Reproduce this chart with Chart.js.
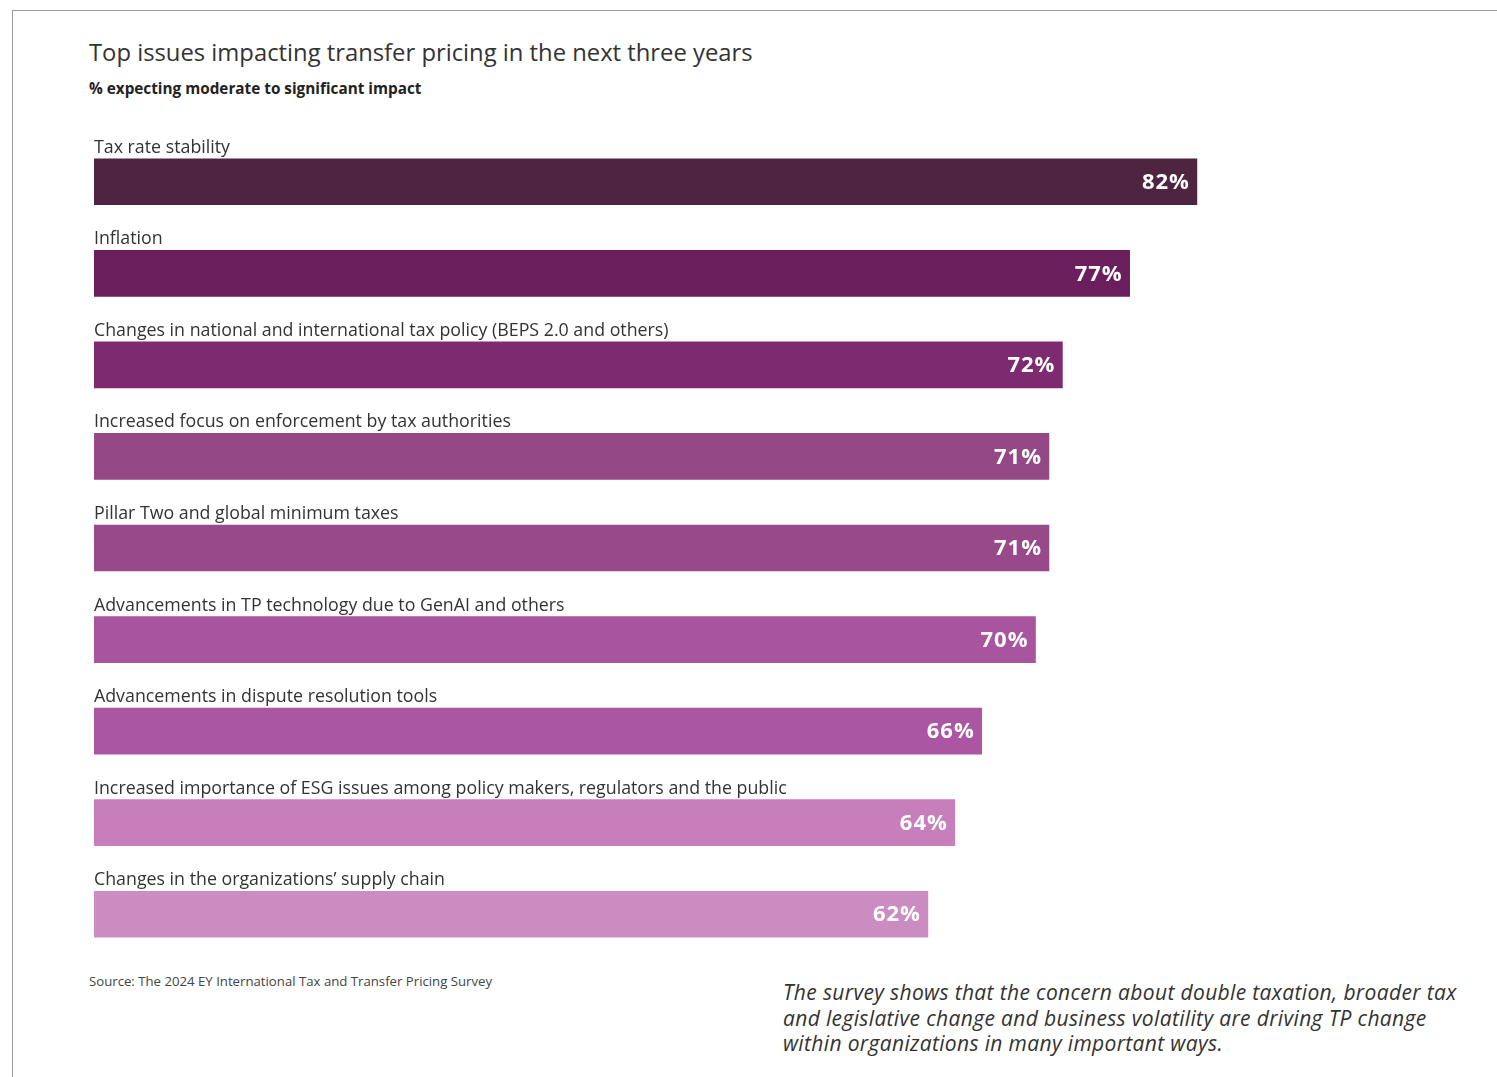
<!DOCTYPE html>
<html>
<head>
<meta charset="utf-8">
<script src="https://cdn.jsdelivr.net/npm/chart.js@4"></script>
<style>
  body{margin:0;background:#fff;width:1497px;height:1077px;overflow:hidden;position:relative;font-family:"Open Sans",sans-serif;}
  #frame{position:absolute;left:12px;top:10px;right:0;bottom:-2px;border-top:1px solid #9a9a9a;border-left:1px solid #9a9a9a;}
  #title{position:absolute;left:89px;top:36px;font-size:23.8px;color:#333;}
  #sub{position:absolute;left:89px;top:78px;font-size:15.3px;font-weight:bold;color:#222;}
  #wrap{position:absolute;left:94px;top:136px;width:1345px;height:824px;}
  #src{position:absolute;left:89px;top:972px;font-size:13.2px;color:#444;}
  #note{position:absolute;left:783px;top:980px;font-size:21px;letter-spacing:0.35px;font-style:italic;color:#333;line-height:25.5px;}
</style>
</head>
<body>
<div id="frame"></div>
<div id="title">Top issues impacting transfer pricing in the next three years</div>
<div id="sub">% expecting moderate to significant impact</div>
<div id="wrap"><canvas id="c"></canvas></div>
<div id="src">Source: The 2024 EY International Tax and Transfer Pricing Survey</div>
<div id="note">The survey shows that the concern about double taxation, broader tax<br>and legislative change and business volatility are driving TP change<br>within organizations in many important ways.</div>
<script>
let issues = [
  'Tax rate stability',
  'Inflation',
  'Changes in national and international tax policy (BEPS 2.0 and others)',
  'Increased focus on enforcement by tax authorities',
  'Pillar Two and global minimum taxes',
  'Advancements in TP technology due to GenAI and others',
  'Advancements in dispute resolution tools',
  'Increased importance of ESG issues among policy makers, regulators and the public',
  'Changes in the organizations\u2019 supply chain'
];
let shares = [82, 77, 72, 71, 71, 70, 66, 64, 62];
let barColors = ['#4e2441', '#6b1e5c', '#7e2a70', '#954886', '#974989', '#a9549f', '#ab56a2', '#c67fba', '#cb8cc1'];

// category text above each bar, value at the bar end
const barText = {
  id: 'barText',
  afterDatasetsDraw(chart){
    let ctx = chart.ctx;
    let meta = chart.getDatasetMeta(0);
    ctx.save();
    meta.data.forEach((bar, i) => {
      let top = bar.y - bar.height/2;
      ctx.fillStyle = '#333';
      ctx.font = '17.8px "Open Sans"';
      ctx.letterSpacing = '0px';
      ctx.textAlign = 'left';
      ctx.textBaseline = 'alphabetic';
      ctx.fillText(issues[i], chart.chartArea.left, top - 6);
      ctx.fillStyle = '#fff';
      ctx.font = 'bold 22px "Open Sans"';
      ctx.letterSpacing = '1px';
      ctx.textAlign = 'right';
      ctx.textBaseline = 'middle';
      ctx.fillText(shares[i] + '%', bar.x - 7, bar.y + 1);
    });
    ctx.restore();
  }
};

new Chart(document.getElementById('c'), {
  type: 'bar',
  data: {
    labels: issues,
    datasets: [{
      data: shares,
      backgroundColor: barColors,
      barThickness: 46,
      borderWidth: 0
    }]
  },
  options: {
    indexAxis: 'y',
    responsive: true,
    maintainAspectRatio: false,
    animation: false,
    layout: {padding: 0},
    plugins: {legend: {display: false}, tooltip: {enabled: false}},
    scales: {
      x: {min: 0, max: 100, display: false},
      y: {display: false, offset: true}
    }
  },
  plugins: [barText]
});
</script>
</body>
</html>
